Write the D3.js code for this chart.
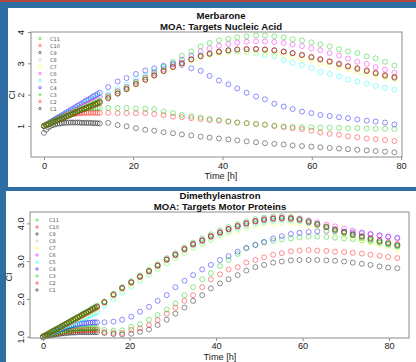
<!DOCTYPE html>
<html><head><meta charset="utf-8">
<script src="https://cdn.jsdelivr.net/npm/d3@7"></script>
<style>body{margin:0;background:#2f6ea5;overflow:hidden}svg{display:block}</style>
</head><body>
<svg id="c" width="416" height="362"></svg>
<script>
// ---------- shared ----------
const seriesNames = ["C1","C2","C3","C4","C5","C6","C7","C8","C9","C10","C11"];
const seriesColors = ["#000000","#FF0000","#00CD00","#0000FF","#00FFFF","#FF00FF","#FFFF00","#BEBEBE","#000000","#FF0000","#00CD00"];
const xTicks = [0,20,40,60,80];

// ---------- panel 1: Merbarone ----------
const p1Title = ["Merbarone","MOA: Targets Nucleic Acid"];
const p1TimesDense = [0,0.5,1,1.5,2,2.5,3,3.5,4,4.5,5,5.5,6,6.5,7,7.5,8,8.5,9,9.5,10,10.5,11,11.5,12,12.5];
const p1TimesSparse = [14.4,16.5,18.5,20.6,22.7,24.7,26.8,28.9,30.9,33.0,35.1,37.1,39.2,41.3,43.3,45.4,47.5,49.5,51.6,53.7,55.7,57.8,59.9,61.9,64.0,66.1,68.1,70.2,72.3,74.3,76.4,78.5];
const p1YTicks = [1,2,3,4];
const p1Dense = [
 [0.78,0.88,0.95,1.00,1.03,1.05,1.07,1.08,1.09,1.10,1.10,1.11,1.11,1.11,1.11,1.11,1.11,1.10,1.10,1.10,1.10,1.10,1.09,1.09,1.09,1.08],
 [1.00,1.04,1.08,1.12,1.16,1.20,1.23,1.26,1.29,1.31,1.33,1.35,1.37,1.38,1.39,1.40,1.41,1.41,1.42,1.42,1.42,1.42,1.42,1.42,1.42,1.42],
 [1.00,1.04,1.08,1.12,1.16,1.20,1.24,1.27,1.31,1.34,1.37,1.40,1.43,1.45,1.48,1.50,1.52,1.53,1.55,1.56,1.57,1.57,1.58,1.58,1.58,1.58],
 [1.00,1.04,1.08,1.13,1.17,1.21,1.26,1.30,1.34,1.38,1.43,1.47,1.51,1.55,1.60,1.64,1.68,1.72,1.77,1.81,1.85,1.89,1.94,1.98,2.02,2.06],
 [1.00,1.04,1.08,1.12,1.16,1.19,1.23,1.27,1.31,1.35,1.39,1.42,1.46,1.50,1.54,1.58,1.61,1.65,1.69,1.73,1.76,1.80,1.84,1.88,1.91,1.95],
 [1.00,1.04,1.07,1.11,1.15,1.18,1.22,1.25,1.29,1.33,1.36,1.40,1.44,1.47,1.51,1.54,1.58,1.62,1.65,1.69,1.72,1.76,1.79,1.83,1.86,1.90],
 [1.00,1.03,1.07,1.10,1.13,1.16,1.20,1.23,1.26,1.30,1.33,1.36,1.39,1.43,1.46,1.49,1.52,1.56,1.59,1.62,1.66,1.69,1.72,1.75,1.79,1.82],
 [1.00,1.03,1.06,1.10,1.13,1.16,1.19,1.22,1.26,1.29,1.32,1.35,1.38,1.42,1.45,1.48,1.51,1.54,1.58,1.61,1.64,1.67,1.70,1.74,1.77,1.80],
 [1.00,1.03,1.06,1.09,1.12,1.15,1.18,1.21,1.24,1.27,1.30,1.33,1.36,1.40,1.43,1.46,1.49,1.52,1.55,1.58,1.61,1.64,1.67,1.70,1.73,1.76],
 [1.00,1.03,1.06,1.09,1.12,1.15,1.18,1.21,1.24,1.27,1.30,1.33,1.36,1.39,1.42,1.45,1.48,1.51,1.54,1.57,1.60,1.62,1.65,1.68,1.71,1.74],
 [1.00,1.03,1.06,1.09,1.12,1.16,1.19,1.22,1.25,1.28,1.31,1.34,1.37,1.40,1.44,1.47,1.50,1.53,1.56,1.59,1.62,1.65,1.68,1.72,1.75,1.78]
];
const p1Sparse = [
 [1.10,1.03,0.99,0.93,0.88,0.85,0.80,0.77,0.73,0.70,0.66,0.63,0.60,0.57,0.54,0.51,0.48,0.45,0.43,0.41,0.38,0.36,0.34,0.32,0.30,0.28,0.26,0.24,0.22,0.20,0.18,0.16],
 [1.42,1.41,1.41,1.41,1.41,1.38,1.35,1.30,1.28,1.25,1.22,1.19,1.17,1.14,1.11,1.09,1.06,1.04,1.00,0.96,0.93,0.90,0.85,0.79,0.75,0.72,0.67,0.64,0.60,0.58,0.55,0.52],
 [1.58,1.57,1.57,1.56,1.55,1.54,1.46,1.41,1.35,1.31,1.27,1.23,1.19,1.15,1.11,1.09,1.07,1.04,1.01,0.99,0.97,0.96,0.96,0.95,0.95,0.94,0.93,0.93,0.92,0.91,0.91,0.90],
 [2.24,2.42,2.53,2.66,2.77,2.84,2.92,2.97,2.95,2.84,2.76,2.60,2.45,2.33,2.20,2.06,1.94,1.85,1.71,1.62,1.54,1.46,1.41,1.35,1.32,1.28,1.25,1.21,1.17,1.14,1.11,1.05],
 [2.05,2.18,2.32,2.50,2.62,2.75,2.88,3.00,3.10,3.20,3.28,3.33,3.37,3.38,3.38,3.36,3.31,3.27,3.22,3.10,3.02,2.95,2.85,2.72,2.66,2.58,2.48,2.42,2.35,2.28,2.22,2.16],
 [1.98,2.12,2.25,2.42,2.55,2.68,2.82,2.98,3.12,3.25,3.38,3.48,3.56,3.62,3.66,3.69,3.70,3.70,3.68,3.65,3.60,3.55,3.48,3.42,3.33,3.25,3.15,3.05,2.98,2.88,2.80,2.70],
 [1.92,2.05,2.18,2.35,2.48,2.60,2.74,2.86,2.98,3.10,3.20,3.27,3.32,3.35,3.36,3.36,3.35,3.33,3.30,3.26,3.21,3.15,3.09,3.02,2.95,2.88,2.81,2.74,2.67,2.61,2.55,2.50],
 [1.92,2.06,2.20,2.36,2.50,2.63,2.77,2.90,3.02,3.14,3.24,3.32,3.38,3.42,3.45,3.46,3.46,3.45,3.42,3.38,3.33,3.27,3.20,3.13,3.06,2.98,2.90,2.83,2.76,2.69,2.62,2.56],
 [1.88,2.03,2.17,2.33,2.47,2.61,2.75,2.88,3.00,3.12,3.22,3.30,3.37,3.42,3.44,3.45,3.45,3.44,3.41,3.37,3.32,3.26,3.19,3.12,3.05,2.97,2.90,2.82,2.75,2.68,2.60,2.54],
 [1.90,2.04,2.18,2.34,2.48,2.62,2.76,2.89,3.01,3.13,3.23,3.31,3.37,3.41,3.44,3.45,3.46,3.44,3.42,3.38,3.33,3.27,3.21,3.14,3.07,3.00,2.92,2.85,2.78,2.70,2.63,2.57],
 [1.95,2.10,2.22,2.40,2.55,2.72,2.88,3.05,3.24,3.38,3.54,3.65,3.73,3.78,3.83,3.86,3.89,3.89,3.86,3.83,3.77,3.73,3.67,3.61,3.54,3.45,3.38,3.33,3.22,3.16,3.05,2.93]
];

// ---------- panel 2: Dimethylenastron ----------
const p2Title = ["Dimethylenastron","MOA: Targets Motor Proteins"];
const p2TimesDense = [0,0.5,1,1.5,2,2.5,3,3.5,4,4.5,5,5.5,6,6.5,7,7.5,8,8.5,9,9.5,10,10.5,11,11.5,12,12.5];
const p2TimesSparse = [14.2,16.3,18.3,20.4,22.4,24.5,26.5,28.6,30.6,32.7,34.7,36.8,38.8,40.9,42.9,45.0,47.0,49.1,51.1,53.2,55.2,57.3,59.3,61.4,63.4,65.5,67.5,69.6,71.6,73.7,75.7,77.8,79.8,81.9];
const p2YTicks = [1,2,3,4];
const p2Dense = [
 [1.00,1.01,1.02,1.03,1.04,1.05,1.06,1.07,1.08,1.09,1.09,1.10,1.10,1.11,1.11,1.11,1.12,1.12,1.12,1.12,1.12,1.12,1.12,1.12,1.12,1.12],
 [1.00,1.02,1.03,1.05,1.06,1.08,1.09,1.10,1.11,1.12,1.13,1.14,1.15,1.15,1.16,1.16,1.17,1.17,1.17,1.18,1.18,1.18,1.18,1.18,1.18,1.18],
 [1.00,1.02,1.04,1.05,1.07,1.09,1.10,1.12,1.13,1.14,1.15,1.16,1.17,1.18,1.19,1.20,1.20,1.21,1.21,1.22,1.22,1.22,1.23,1.23,1.23,1.23],
 [1.00,1.03,1.05,1.08,1.10,1.13,1.15,1.17,1.20,1.22,1.24,1.26,1.28,1.29,1.31,1.32,1.33,1.34,1.35,1.36,1.36,1.37,1.37,1.38,1.38,1.38],
 [1.00,1.03,1.05,1.08,1.10,1.13,1.16,1.18,1.21,1.23,1.26,1.29,1.31,1.34,1.36,1.39,1.42,1.44,1.47,1.49,1.52,1.55,1.57,1.60,1.62,1.65],
 [1.00,1.03,1.06,1.09,1.12,1.16,1.19,1.22,1.25,1.28,1.31,1.34,1.37,1.41,1.44,1.47,1.50,1.53,1.56,1.59,1.62,1.66,1.69,1.72,1.75,1.78],
 [1.00,1.03,1.06,1.09,1.12,1.15,1.18,1.21,1.24,1.27,1.30,1.33,1.36,1.38,1.41,1.44,1.47,1.50,1.53,1.56,1.59,1.62,1.65,1.68,1.71,1.74],
 [1.00,1.03,1.06,1.09,1.12,1.15,1.18,1.21,1.24,1.27,1.30,1.33,1.36,1.40,1.43,1.46,1.49,1.52,1.55,1.58,1.61,1.64,1.67,1.70,1.73,1.76],
 [1.00,1.03,1.06,1.10,1.13,1.16,1.19,1.22,1.26,1.29,1.32,1.35,1.38,1.42,1.45,1.48,1.51,1.54,1.58,1.61,1.64,1.67,1.70,1.74,1.77,1.80],
 [1.00,1.03,1.06,1.09,1.13,1.16,1.19,1.22,1.25,1.28,1.32,1.35,1.38,1.41,1.44,1.47,1.51,1.54,1.57,1.60,1.63,1.66,1.70,1.73,1.76,1.79],
 [1.00,1.03,1.07,1.10,1.13,1.16,1.20,1.23,1.26,1.29,1.33,1.36,1.39,1.42,1.46,1.49,1.52,1.55,1.59,1.62,1.65,1.68,1.72,1.75,1.78,1.82]
];
const p2Sparse = [
 [1.10,1.07,1.06,1.08,1.13,1.19,1.31,1.45,1.61,1.77,1.95,2.10,2.28,2.41,2.52,2.63,2.75,2.84,2.90,2.96,2.99,3.02,3.03,3.03,3.03,3.02,3.01,2.99,2.96,2.93,2.90,2.86,2.83,2.81],
 [1.12,1.10,1.10,1.18,1.22,1.31,1.44,1.61,1.77,1.95,2.10,2.31,2.52,2.65,2.78,2.84,2.96,3.03,3.10,3.17,3.21,3.26,3.28,3.29,3.28,3.27,3.25,3.24,3.22,3.20,3.17,3.14,3.11,3.08],
 [1.18,1.16,1.17,1.26,1.33,1.45,1.57,1.72,1.88,2.10,2.31,2.52,2.68,2.87,3.03,3.19,3.34,3.43,3.49,3.54,3.58,3.60,3.63,3.65,3.65,3.64,3.62,3.60,3.58,3.55,3.52,3.49,3.46,3.43],
 [1.38,1.40,1.45,1.53,1.66,1.79,1.95,2.10,2.31,2.48,2.63,2.78,2.90,3.03,3.13,3.25,3.35,3.43,3.51,3.60,3.66,3.72,3.75,3.77,3.79,3.80,3.79,3.78,3.76,3.74,3.71,3.68,3.65,3.62],
 [1.82,2.00,2.16,2.32,2.48,2.63,2.79,2.94,3.08,3.22,3.36,3.46,3.57,3.68,3.77,3.85,3.92,3.98,4.03,4.06,4.08,4.08,4.06,4.01,3.96,3.90,3.83,3.77,3.71,3.65,3.59,3.53,3.46,3.40],
 [1.90,2.10,2.28,2.43,2.58,2.73,2.88,3.04,3.17,3.32,3.45,3.55,3.66,3.76,3.85,3.93,4.00,4.06,4.10,4.13,4.15,4.14,4.12,4.08,4.03,3.97,3.92,3.86,3.81,3.76,3.72,3.68,3.64,3.60],
 [1.88,2.06,2.22,2.37,2.52,2.66,2.80,2.95,3.08,3.22,3.35,3.45,3.55,3.65,3.74,3.81,3.88,3.94,3.98,4.01,4.02,4.01,3.99,3.94,3.88,3.82,3.75,3.68,3.62,3.56,3.50,3.44,3.38,3.30],
 [1.90,2.10,2.27,2.42,2.57,2.72,2.86,3.02,3.15,3.29,3.42,3.52,3.63,3.73,3.82,3.89,3.96,4.02,4.06,4.09,4.10,4.09,4.06,4.01,3.95,3.88,3.81,3.74,3.69,3.63,3.58,3.52,3.46,3.40],
 [1.92,2.12,2.29,2.44,2.59,2.73,2.88,3.04,3.16,3.31,3.44,3.54,3.65,3.75,3.84,3.92,3.99,4.05,4.09,4.12,4.13,4.12,4.09,4.03,3.97,3.90,3.83,3.76,3.70,3.65,3.59,3.53,3.47,3.42],
 [1.91,2.11,2.29,2.44,2.59,2.74,2.89,3.05,3.18,3.33,3.46,3.56,3.67,3.77,3.86,3.94,4.01,4.07,4.11,4.14,4.15,4.14,4.11,4.05,3.99,3.92,3.85,3.78,3.72,3.66,3.61,3.55,3.50,3.45],
 [1.93,2.13,2.31,2.47,2.62,2.77,2.92,3.08,3.21,3.36,3.49,3.60,3.71,3.81,3.90,3.98,4.05,4.11,4.15,4.18,4.19,4.17,4.13,4.06,3.99,3.91,3.83,3.75,3.68,3.61,3.55,3.49,3.43,3.38]
];

// ---------- drawing ----------
const svg = d3.select("#c");
svg.append("rect").attr("x",0).attr("y",0).attr("width",416).attr("height",362).attr("fill","#2f6ea5");
svg.append("rect").attr("x",0).attr("y",0).attr("width",416).attr("height",2).attr("fill","#b5473f");
svg.append("rect").attr("x",8).attr("y",8).attr("width",408).attr("height",179).attr("fill","#ffffff");
svg.append("rect").attr("x",6).attr("y",191).attr("width",410).attr("height",171).attr("fill","#ffffff");

const FONT = "'Liberation Sans', Arial, Helvetica, sans-serif";
const AX = 9.2;

function drawPanel(cfg){
  const g = svg.append("g");
  const x = d3.scaleLinear().domain(cfg.xDomain).range([cfg.box.l, cfg.box.r]);
  const y = d3.scaleLinear().domain(cfg.yDomain).range([cfg.box.b, cfg.box.t]);

  // points
  seriesNames.forEach((name,i)=>{
    const pts = cfg.timesDense.map((t,j)=>[t,cfg.dense[i][j]])
      .concat(cfg.timesSparse.map((t,j)=>[t,cfg.sparse[i][j]]));
    g.append("g").selectAll("circle").data(pts).join("circle")
      .attr("cx",d=>x(d[0])).attr("cy",d=>y(d[1])).attr("r",2.5)
      .attr("fill","none").attr("stroke",seriesColors[i])
      .attr("stroke-opacity",0.55).attr("stroke-width",0.8);
  });

  // box
  g.append("rect").attr("x",cfg.box.l).attr("y",cfg.box.t)
    .attr("width",cfg.box.r-cfg.box.l).attr("height",cfg.box.b-cfg.box.t)
    .attr("fill","none").attr("stroke","#8c8c8c").attr("stroke-width",1);

  // x axis
  const xa = g.append("g").attr("transform",`translate(0,${cfg.box.b})`)
    .call(d3.axisBottom(x).tickValues(xTicks).tickSize(3).tickFormat(d3.format("d")));
  xa.select(".domain").remove();
  xa.selectAll("line").attr("stroke","#8c8c8c");
  xa.selectAll("text").attr("font-family",FONT).attr("font-size",AX).attr("fill","#222")
    .attr("y",cfg.xLabOff).attr("dy",null).attr("dominant-baseline","central");

  // y axis
  const ya = g.append("g").attr("transform",`translate(${cfg.box.l},0)`)
    .call(d3.axisLeft(y).tickValues(cfg.yTicks).tickSize(3).tickFormat(d3.format(cfg.yFmt)));
  ya.select(".domain").remove();
  ya.selectAll("line").attr("stroke","#8c8c8c");
  ya.selectAll("text").attr("font-family",FONT).attr("font-size",AX).attr("fill","#222")
    .attr("text-anchor","middle").attr("x",0).attr("dy",null)
    .attr("transform",`translate(${cfg.yLabX-cfg.box.l},0) rotate(-90)`)
    .attr("dominant-baseline","central");

  // titles
  g.append("text").attr("x",cfg.titleX).attr("y",cfg.titleY1).attr("text-anchor","middle")
    .attr("font-family",FONT).attr("font-weight","bold").attr("font-size",9.6).attr("fill","#111").text(cfg.title[0]);
  g.append("text").attr("x",cfg.titleX).attr("y",cfg.titleY2).attr("text-anchor","middle")
    .attr("font-family",FONT).attr("font-weight","bold").attr("font-size",9.6).attr("fill","#111").text(cfg.title[1]);
  g.append("text").attr("x",cfg.titleX).attr("y",cfg.xTitleY).attr("text-anchor","middle")
    .attr("font-family",FONT).attr("font-size",AX).attr("fill","#222").text("Time [h]");
  g.append("text").attr("transform",`translate(${cfg.yTitleX},${cfg.yTitleY}) rotate(-90)`)
    .attr("text-anchor","middle").attr("dominant-baseline","central")
    .attr("font-family",FONT).attr("font-size",AX).attr("fill","#222").text("CI");

  // legend (C11 on top)
  const order = seriesNames.map((n,i)=>i).reverse();
  const lg = g.append("g");
  order.forEach((i,k)=>{
    const yy = cfg.legY + k*7;
    lg.append("circle").attr("cx",cfg.legSymX).attr("cy",yy).attr("r",1.2)
      .attr("fill","none").attr("stroke",seriesColors[i]).attr("stroke-opacity",0.6).attr("stroke-width",0.9);
    lg.append("text").attr("x",cfg.legTxtX).attr("y",yy).attr("dominant-baseline","central")
      .attr("font-family","'DejaVu Sans', sans-serif").attr("font-size",5).attr("fill","#555").text(seriesNames[i]);
  });
}

drawPanel({
  box:{l:31,r:402,t:32,b:157}, xDomain:[-2.9,80.2], yDomain:[0.01,4.0],
  timesDense:p1TimesDense, timesSparse:p1TimesSparse, dense:p1Dense, sparse:p1Sparse,
  yTicks:p1YTicks, yFmt:"d", yLabX:21, yTitleX:12, yTitleY:95, xLabOff:9,
  title:p1Title, titleX:221, titleY1:18.5, titleY2:29.5, xTitleY:179.3,
  legY:38.5, legSymX:40, legTxtX:50
});
drawPanel({
  box:{l:30,r:409,t:212,b:338}, xDomain:[-3.0,84.6], yDomain:[0.966,4.30],
  timesDense:p2TimesDense, timesSparse:p2TimesSparse, dense:p2Dense, sparse:p2Sparse,
  yTicks:p2YTicks, yFmt:".1f", yLabX:21, yTitleX:9, yTitleY:277, xLabOff:7.5,
  title:p2Title, titleX:220, titleY1:199, titleY2:210, xTitleY:360,
  legY:220, legSymX:37, legTxtX:49
});
</script>
</body></html>
